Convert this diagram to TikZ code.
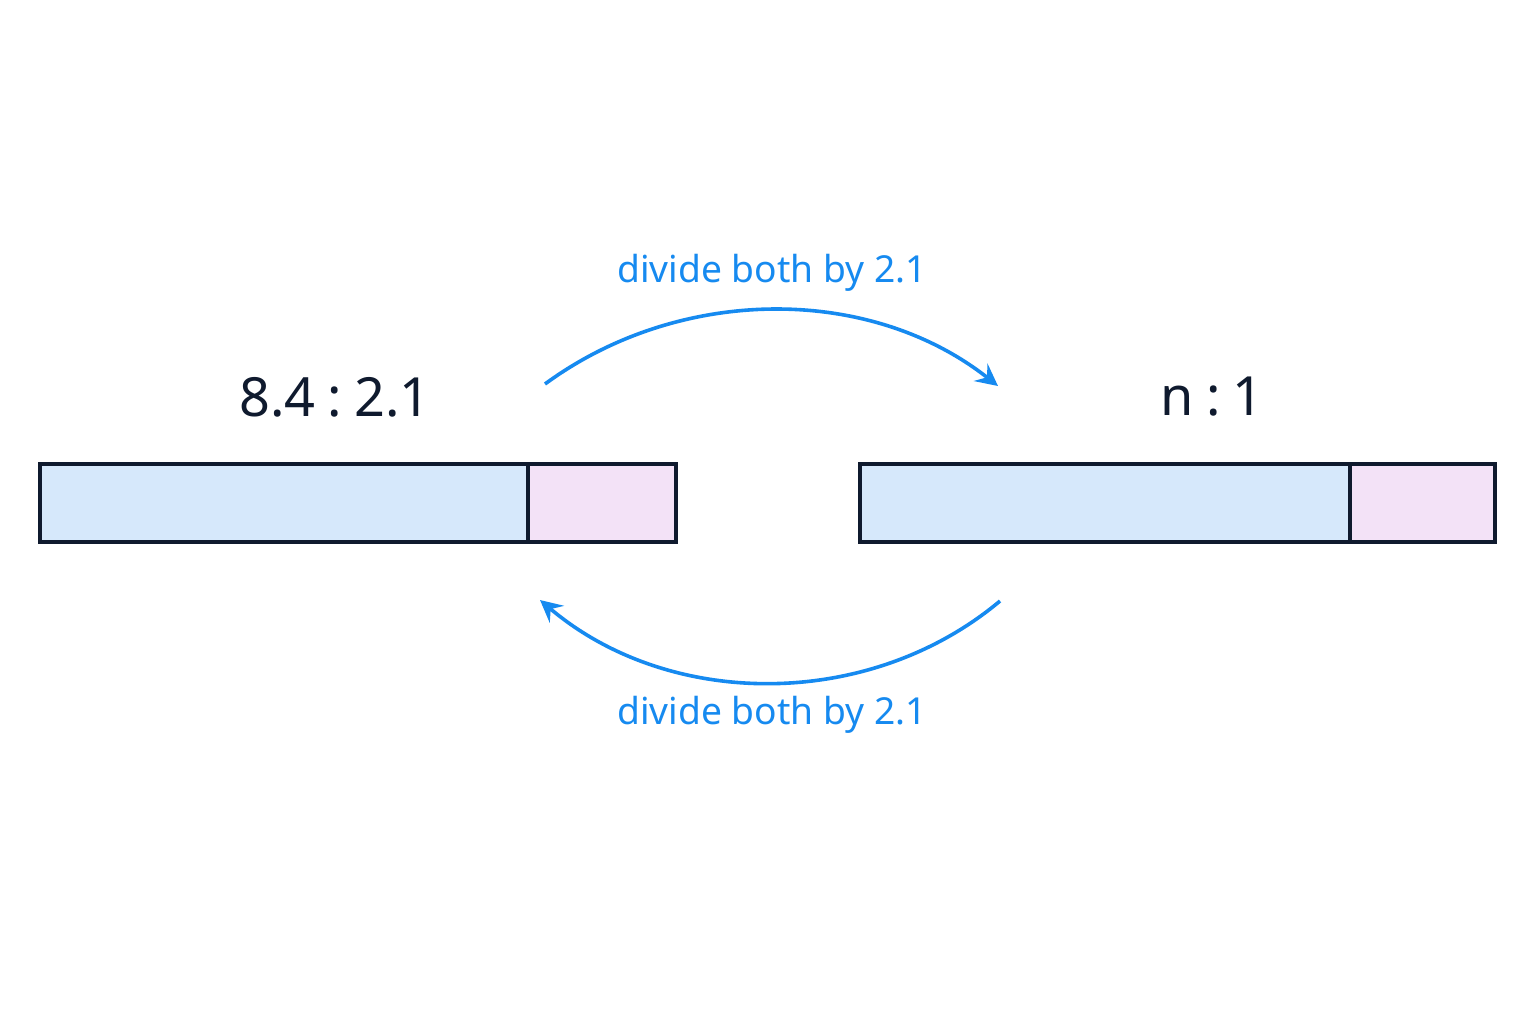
\documentclass[tikz,border=0pt]{standalone}
\usepackage{fontspec}
\setmainfont{Noto Sans}
\usetikzlibrary{arrows.meta}
\definecolor{arrblue}{HTML}{168AF0}
\definecolor{barblue}{HTML}{D6E8FB}
\definecolor{barpink}{HTML}{F3E2F7}
\definecolor{ink}{HTML}{0F1A2E}
\begin{document}
\begin{tikzpicture}[x=0.5pt,y=-0.5pt,
  bar/.style={draw=ink,line width=1.6pt},
  ratio/.style={text=ink,font=\fontsize{27}{30}\selectfont},
  lab/.style={text=arrblue,font=\fontsize{18.6}{22}\selectfont},
  arr/.style={draw=arrblue,line width=1.8pt,-{Stealth[length=11pt,width=11pt,inset=4pt]}}]
\useasboundingbox[fill=white] (0,0) rectangle (1536,1024);
\path[bar,fill=barblue] (40,464) rectangle (528,542);
\path[bar,fill=barpink] (528,464) rectangle (676,542);
\path[bar,fill=barblue] (860,464) rectangle (1350,542);
\path[bar,fill=barpink] (1350,464) rectangle (1495,542);
\node[ratio] (l) at (335,397) {8.4\hspace{6pt}:\hspace{6pt}2.1};
\node[ratio] (r) at (1212,397) {n\hspace{6pt}:\hspace{6pt}1};
\node[lab] (t) at (772,273) {divide both by 2.1};
\node[lab] (b) at (772,715) {divide both by 2.1};
\coordinate (a1) at (545,384); \coordinate (a2) at (998,386);
\coordinate (b1) at (1000,601); \coordinate (b2) at (540,600);
\draw[arr] (a1) .. controls (680,285) and (870,285) .. (a2);
\draw[arr] (b1) .. controls (870,710) and (670,710) .. (b2);
\end{tikzpicture}
\end{document}
